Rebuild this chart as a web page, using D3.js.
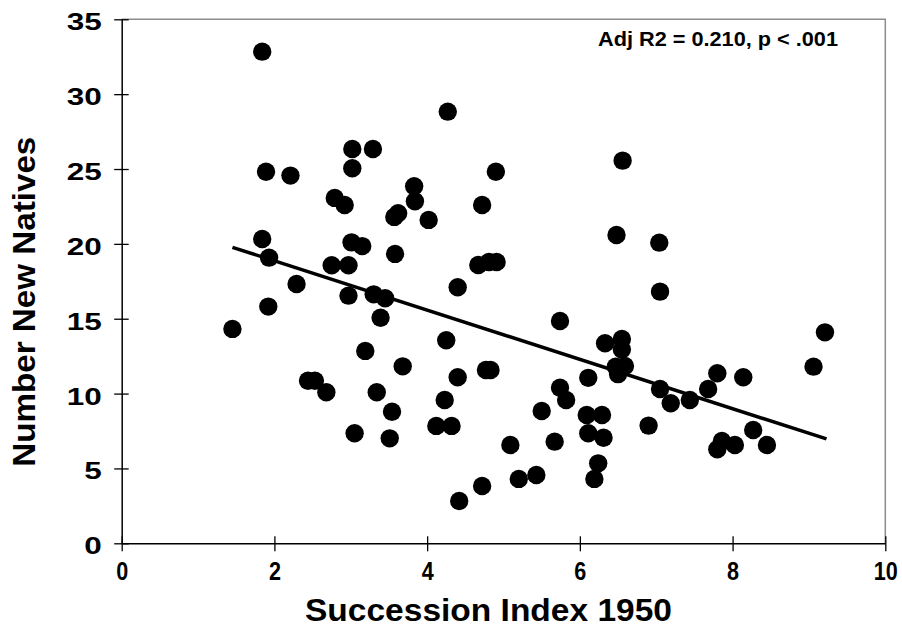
<!DOCTYPE html>
<html>
<head>
<meta charset="utf-8">
<script src="https://cdn.jsdelivr.net/npm/d3@7"></script>
<style>
  body { margin: 0; background: #fff; }
  text { font-family: "Liberation Sans", Arial, sans-serif; font-weight: bold; fill: #000; }
</style>
</head>
<body>
<div id="chart"></div>
<script>
// Data
const successionIndex = [
  1.84, 4.27, 3.02, 3.29, 3.02, 1.89, 2.21, 4.90, 3.83, 2.79,
  2.92, 3.84, 4.72, 3.62, 3.57, 4.02, 1.84, 3.01, 3.15, 3.58,
  1.93, 2.75, 2.97, 4.67, 4.81, 4.91, 6.56, 6.48, 7.04, 2.29,
  4.40, 1.92, 2.97, 3.30, 3.45, 3.39, 1.45, 4.25, 3.19, 3.68,
  4.77, 4.83, 4.40, 2.44, 2.53, 2.68, 3.34, 4.23, 3.54, 4.12,
  4.32, 3.05, 3.51, 4.72, 4.42, 7.05, 5.74, 9.21, 6.33, 6.55,
  6.55, 6.47, 6.59, 6.50, 6.11, 9.06, 7.80, 8.14, 7.68, 7.05,
  5.74, 5.82, 7.19, 7.44, 5.50, 6.09, 6.29, 8.27, 6.90, 6.11,
  6.31, 5.67, 5.09, 7.86, 7.80, 8.03, 8.45, 6.24, 6.19, 5.43,
  5.20
];
const newNatives = [
  32.84, 28.83, 26.34, 26.34, 25.05, 24.82, 24.56, 24.82, 23.85, 23.07,
  22.60, 22.85, 22.60, 22.05, 21.80, 21.60, 20.33, 20.10, 19.85, 19.33,
  19.08, 18.57, 18.57, 18.59, 18.79, 18.79, 25.56, 20.59, 20.08, 17.32,
  17.10, 15.81, 16.54, 16.63, 16.37, 15.07, 14.32, 13.56, 12.85, 11.82,
  11.58, 11.58, 11.09, 10.86, 10.86, 10.09, 10.09, 9.57, 8.79, 7.84,
  7.84, 7.35, 7.01, 3.83, 2.83, 16.81, 14.85, 14.09, 13.36, 13.65,
  12.95, 11.80, 11.85, 11.30, 11.05, 11.80, 11.36, 11.09, 10.31, 10.31,
  10.39, 9.57, 9.35, 9.57, 8.84, 8.57, 8.57, 7.57, 7.86, 7.35,
  7.05, 6.79, 6.57, 6.83, 6.28, 6.57, 6.57, 5.34, 4.30, 4.56,
  4.30
];
// Fitted line end points
const fitX = [1.45, 9.23];
const fitY = [19.77, 6.97];

const xTicks = [0, 2, 4, 6, 8, 10];
const yTicks = [0, 5, 10, 15, 20, 25, 30, 35];

const xTitle = "Succession Index 1950";
const yTitle = "Number New Natives";
const note = "Adj R2 = 0.210, p < .001";

const W = 902, H = 635;
const margin = { top: 19.3, right: 16.7, bottom: 91.7, left: 121.7 };
const width = W - margin.left - margin.right;
const height = H - margin.top - margin.bottom;

const svg = d3.select("#chart").append("svg")
    .attr("width", W)
    .attr("height", H);

const g = svg.append("g")
    .attr("transform", `translate(${margin.left},${margin.top})`);

const x = d3.scaleLinear().domain([0, 10]).range([0, width]);
const y = d3.scaleLinear().domain([0, 35]).range([height, 0]);

// top and right frame (grey)
g.append("path")
    .attr("d", `M0,0H${width}V${height}`)
    .attr("fill", "none")
    .attr("stroke", "#8c8c8c")
    .attr("stroke-width", 1.5);

// X axis
const xAxis = g.append("g")
    .attr("transform", `translate(0,${height})`)
    .call(d3.axisBottom(x).tickValues(xTicks).tickSizeOuter(0).tickSizeInner(7));
xAxis.select(".domain").attr("stroke", "#000").attr("stroke-width", 1.5);
xAxis.selectAll(".tick line").attr("y1", -7).attr("y2", 8).attr("stroke", "#000").attr("stroke-width", 1.3);
xAxis.selectAll(".tick text")
    .attr("y", 37).attr("dy", null)
    .style("font-size", "25px")
    .attr("textLength", d => String(d).length * 12)
    .attr("lengthAdjust", "spacingAndGlyphs");

// Y axis
const yAxis = g.append("g")
    .call(d3.axisLeft(y).tickValues(yTicks).tickSizeOuter(0).tickSizeInner(7));
yAxis.select(".domain").attr("stroke", "#000").attr("stroke-width", 1.5);
yAxis.selectAll(".tick line").attr("x1", -7.5).attr("x2", 7).attr("stroke", "#000").attr("stroke-width", 1.3);
yAxis.selectAll(".tick text")
    .attr("x", -20).attr("dy", null).attr("y", 10.5)
    .style("font-size", "24px")
    .attr("textLength", d => String(d).length * 17.5)
    .attr("lengthAdjust", "spacingAndGlyphs");
svg.selectAll(".tick text").attr("fill", "#000");

// fitted line
g.append("line")
    .attr("x1", x(fitX[0])).attr("y1", y(fitY[0]))
    .attr("x2", x(fitX[1])).attr("y2", y(fitY[1]))
    .attr("stroke", "#000")
    .attr("stroke-width", 3.5);

// points
g.append("g")
    .selectAll("circle")
    .data(successionIndex.map((v, i) => ({ x: v, y: newNatives[i] })))
    .enter().append("circle")
    .attr("cx", d => x(d.x))
    .attr("cy", d => y(d.y))
    .attr("r", 9.2)
    .attr("fill", "#000");

// annotation
svg.append("text")
    .attr("x", 598).attr("y", 46)
    .style("font-size", "20px")
    .attr("textLength", 240)
    .attr("lengthAdjust", "spacingAndGlyphs")
    .text(note);

// axis titles
svg.append("text")
    .attr("x", 305).attr("y", 621)
    .style("font-size", "31px")
    .attr("textLength", 367)
    .attr("lengthAdjust", "spacingAndGlyphs")
    .text(xTitle);

svg.append("text")
    .attr("transform", "translate(35,466.7) rotate(-90)")
    .style("font-size", "31px")
    .attr("textLength", 330)
    .attr("lengthAdjust", "spacingAndGlyphs")
    .text(yTitle);
</script>
</body>
</html>
